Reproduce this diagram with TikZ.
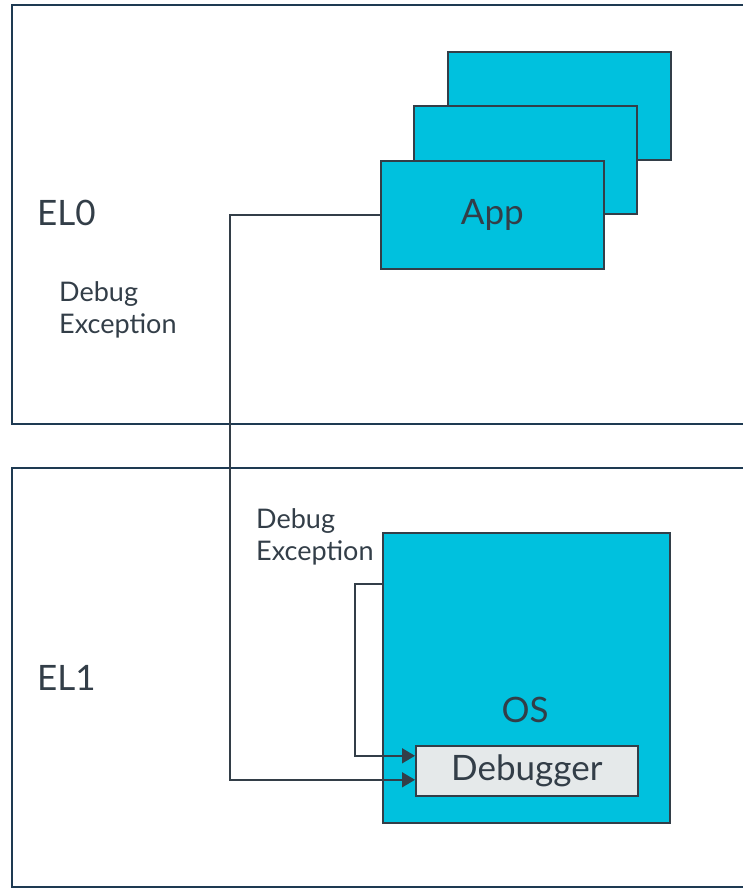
\documentclass[tikz,border=0pt]{standalone}
\usepackage{fontspec}
\setmainfont{Lato}
\usetikzlibrary{arrows.meta,positioning}
\definecolor{armcyan}{HTML}{00C1DE}
\definecolor{armgrey}{HTML}{333E48}
\definecolor{lvline}{HTML}{1E3A52}
\definecolor{dbgfill}{HTML}{E5E9EA}
\begin{document}
\begin{tikzpicture}[x=1pt,y=-1pt,
  level/.style={draw=lvline,line width=1.8pt,minimum width=745pt,minimum height=419pt,anchor=north west,inner sep=0pt},
  appbox/.style={draw=armgrey,fill=armcyan,line width=1.6pt,minimum width=223pt,minimum height=108pt,anchor=north west,inner sep=0pt},
  big/.style={text=armgrey,font=\fontsize{35}{40}\selectfont,inner sep=0pt},
  lbl/.style={text=armgrey,font=\fontsize{27}{32}\selectfont,align=left,anchor=north west,inner sep=0pt},
  flow/.style={draw=armgrey,line width=1.6pt},
  tip/.style={-{Triangle[length=13pt,width=15pt]}}
]
\useasboundingbox (0,0) rectangle (742,888);
%----------------------------------
\node[level] (el0) at (11,4) {};
\node[level] (el1) at (11,467) {};
\node[big,anchor=west] (el0txt) at (37,213) {EL0};
\node[big,anchor=west] (el1txt) at (37,678) {EL1};
%----------------------------------
\node[appbox] (app3) at (447,51) {};
\node[appbox] (app2) at (413,105) {};
\node[appbox,big] (app1) at (380,160) {App};
%----------------------------------
\node[appbox,minimum width=287pt,minimum height=290pt] (os) at (382,532) {};
\node[big] (ostxt) at (525,710) {OS};
\node[big,draw=armgrey,fill=dbgfill,line width=1.6pt,minimum width=222pt,minimum height=50pt,anchor=north west] (dbg) at (415,745) {Debugger};
%----------------------------------
\node[lbl] (exc0) at (59,281) {Debug\\Exception};
\node[lbl] (exc1) at (256,508) {Debug\\Exception};
%----------------------------------
\draw[flow,tip] (app1.west) -- ++(-150,0) |- ([yshift=-9pt]dbg.west);
\draw[flow,tip] ([yshift=94pt]os.west) -- ++(-27,0) |- ([yshift=15pt]dbg.west);
\end{tikzpicture}
\end{document}
